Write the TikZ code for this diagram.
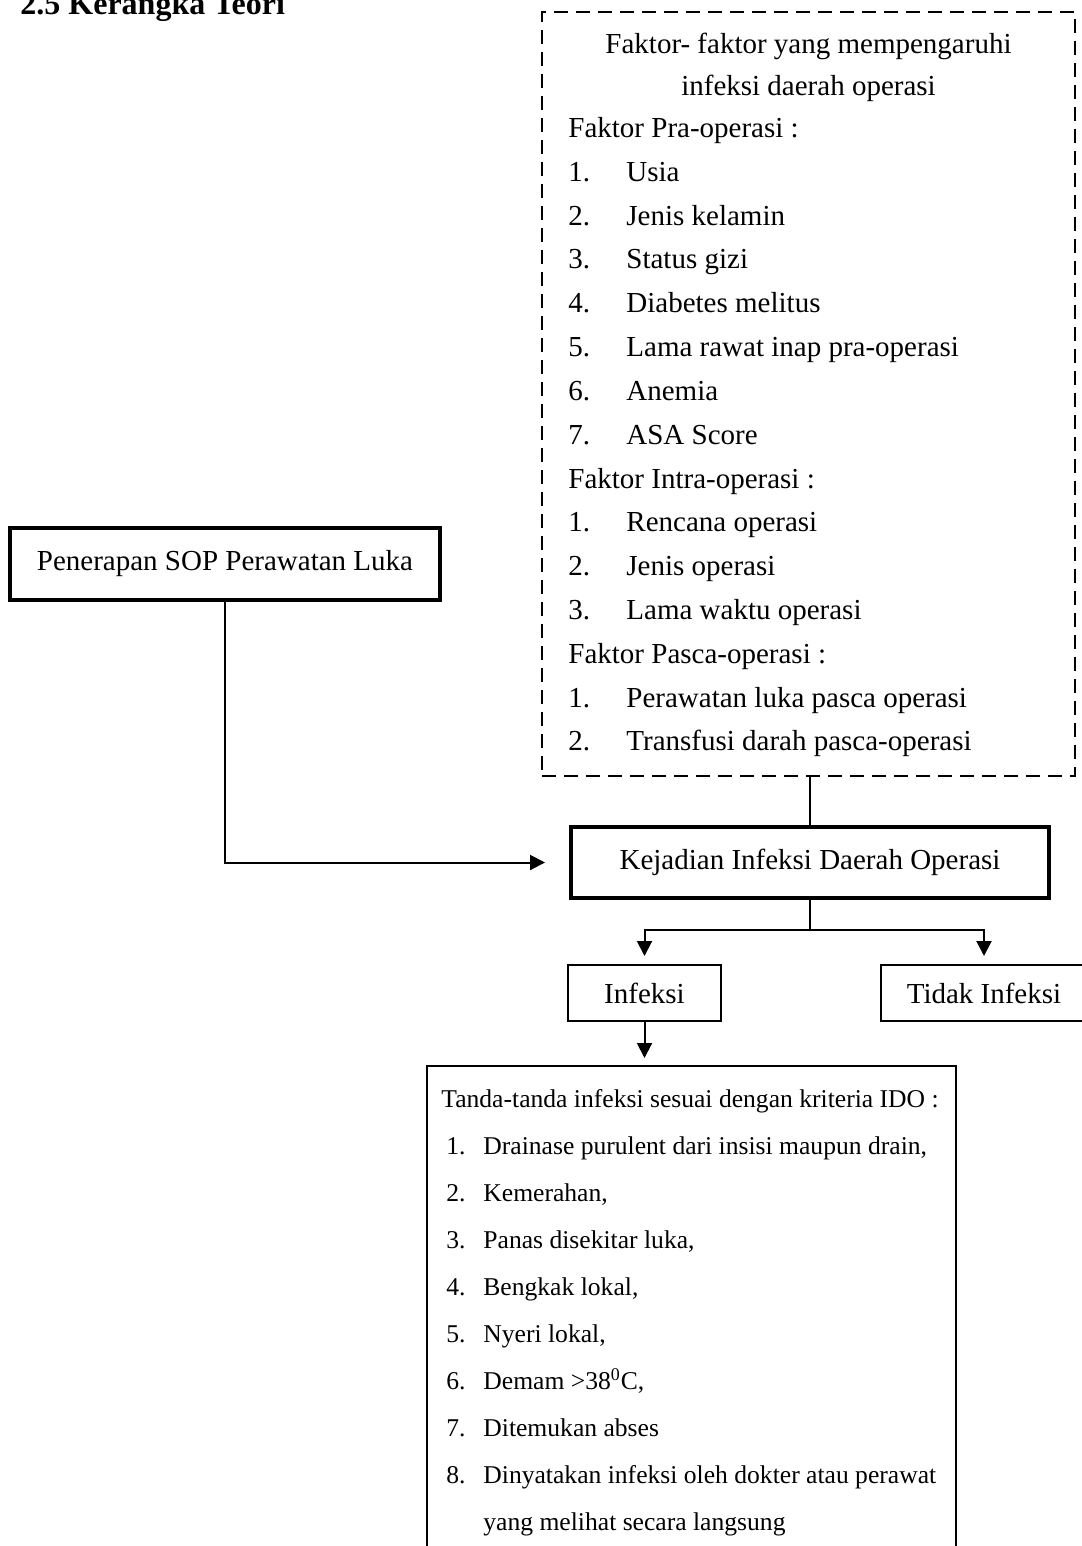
\documentclass[tikz,border=0pt]{standalone}
\usepackage{fontspec}
\setmainfont{Liberation Serif}
\usepackage{tikz}
\usetikzlibrary{arrows.meta}
\usetikzlibrary{calc}
\tikzset{
  kotaktebal/.style={draw, line width=2pt, inner sep=0pt},
  kotaktipis/.style={draw, line width=1pt, inner sep=0pt},
  kotakputus/.style={draw, line width=1pt, dash pattern=on 7pt off 4pt, inner sep=0pt},
  garis/.style={line width=1pt},
  panah/.style={line width=1pt, -{Triangle[width=7.5pt,length=7.5pt]}},
  teks/.style={anchor=base west, inner sep=0pt},
  tengah/.style={anchor=base, inner sep=0pt},
  kecil/.style={anchor=base west, inner sep=0pt, font=\fontsize{12.8}{15}\selectfont},
}

\begin{document}
\begin{tikzpicture}[x=0.5pt,y=-0.5pt,font=\fontsize{14.5}{17}\selectfont]
\useasboundingbox (0,0) rectangle (1081,1546);

\node [teks, font=\fontsize{16}{18}\selectfont\bfseries] (judul) at (20,15) {2.5 Kerangka Teori};

\node [kotakputus, minimum width=266.5pt, minimum height=382pt] (faktor) at (808.5,394) {};
\node [tengah] (f0) at (808.5,54) {Faktor- faktor yang mempengaruhi};
\node [tengah] (f1) at (808.5,96) {infeksi daerah operasi};
\node [teks] (pra) at (568,137.6) {Faktor Pra-operasi :};
\node [teks] at (568,181.4) {1.};
\node [teks] at (626,181.4) {Usia};
\node [teks] at (568,225.2) {2.};
\node [teks] at (626,225.2) {Jenis kelamin};
\node [teks] at (568,269) {3.};
\node [teks] at (626,269) {Status gizi};
\node [teks] at (568,312.8) {4.};
\node [teks] at (626,312.8) {Diabetes melitus};
\node [teks] at (568,356.6) {5.};
\node [teks] at (626,356.6) {Lama rawat inap pra-operasi};
\node [teks] at (568,400.4) {6.};
\node [teks] at (626,400.4) {Anemia};
\node [teks] at (568,444.2) {7.};
\node [teks] at (626,444.2) {ASA Score};
\node [teks] (intra) at (568,488) {Faktor Intra-operasi :};
\node [teks] at (568,531.8) {1.};
\node [teks] at (626,531.8) {Rencana operasi};
\node [teks] at (568,575.6) {2.};
\node [teks] at (626,575.6) {Jenis operasi};
\node [teks] at (568,619.4) {3.};
\node [teks] at (626,619.4) {Lama waktu operasi};
\node [teks] (pasca) at (568,663.2) {Faktor Pasca-operasi :};
\node [teks] at (568,707) {1.};
\node [teks] at (626,707) {Perawatan luka pasca operasi};
\node [teks] at (568,750.8) {2.};
\node [teks] at (626,750.8) {Transfusi darah pasca-operasi};

\node [kotaktebal, minimum width=215pt, minimum height=36pt] (sop) at (225,564) {Penerapan SOP Perawatan Luka};
\node [kotaktebal, minimum width=239pt, minimum height=35.5pt] (kejadian) at (810,862.5) {Kejadian Infeksi Daerah Operasi};
\node [kotaktipis, minimum width=76.5pt, minimum height=28pt] (infeksi) at (644.5,993) {Infeksi};
\node [kotaktipis, minimum width=103pt, minimum height=28pt] (tidak) at (984,993) {Tidak Infeksi};
\node [kotaktipis, minimum width=264.5pt, minimum height=252pt] (tanda) at (691.5,1318) {};

\node [kecil] (t0) at (441,1107) {Tanda-tanda infeksi sesuai dengan kriteria IDO :};
\node [kecil] at (446,1154) {1.};
\node [kecil] at (483,1154) {Drainase purulent dari insisi maupun drain,};
\node [kecil] at (446,1201) {2.};
\node [kecil] at (483,1201) {Kemerahan,};
\node [kecil] at (446,1248) {3.};
\node [kecil] at (483,1248) {Panas disekitar luka,};
\node [kecil] at (446,1295) {4.};
\node [kecil] at (483,1295) {Bengkak lokal,};
\node [kecil] at (446,1342) {5.};
\node [kecil] at (483,1342) {Nyeri lokal,};
\node [kecil] at (446,1389) {6.};
\node [kecil] at (483,1389) {Demam >38\textsuperscript{0}C,};
\node [kecil] at (446,1436) {7.};
\node [kecil] at (483,1436) {Ditemukan abses};
\node [kecil] at (446,1483) {8.};
\node [kecil] at (483,1483) {Dinyatakan infeksi oleh dokter atau perawat};
\node [kecil] at (483,1530) {yang melihat secara langsung};

\coordinate (cabang) at ($(kejadian.south)+(0,30)$);
\draw [garis] (faktor.south -| kejadian.north) -- (kejadian.north);
\draw [panah, shorten >=12pt] (sop.south) |- (kejadian.west);
\draw [garis] (kejadian.south) -- (cabang);
\draw [panah, shorten >=4pt] (cabang) -| (infeksi.north);
\draw [panah, shorten >=4pt] (cabang) -| (tidak.north);
\draw [panah, shorten >=3.5pt] (infeksi.south) -- (infeksi.south |- tanda.north);
\end{tikzpicture}
\end{document}
